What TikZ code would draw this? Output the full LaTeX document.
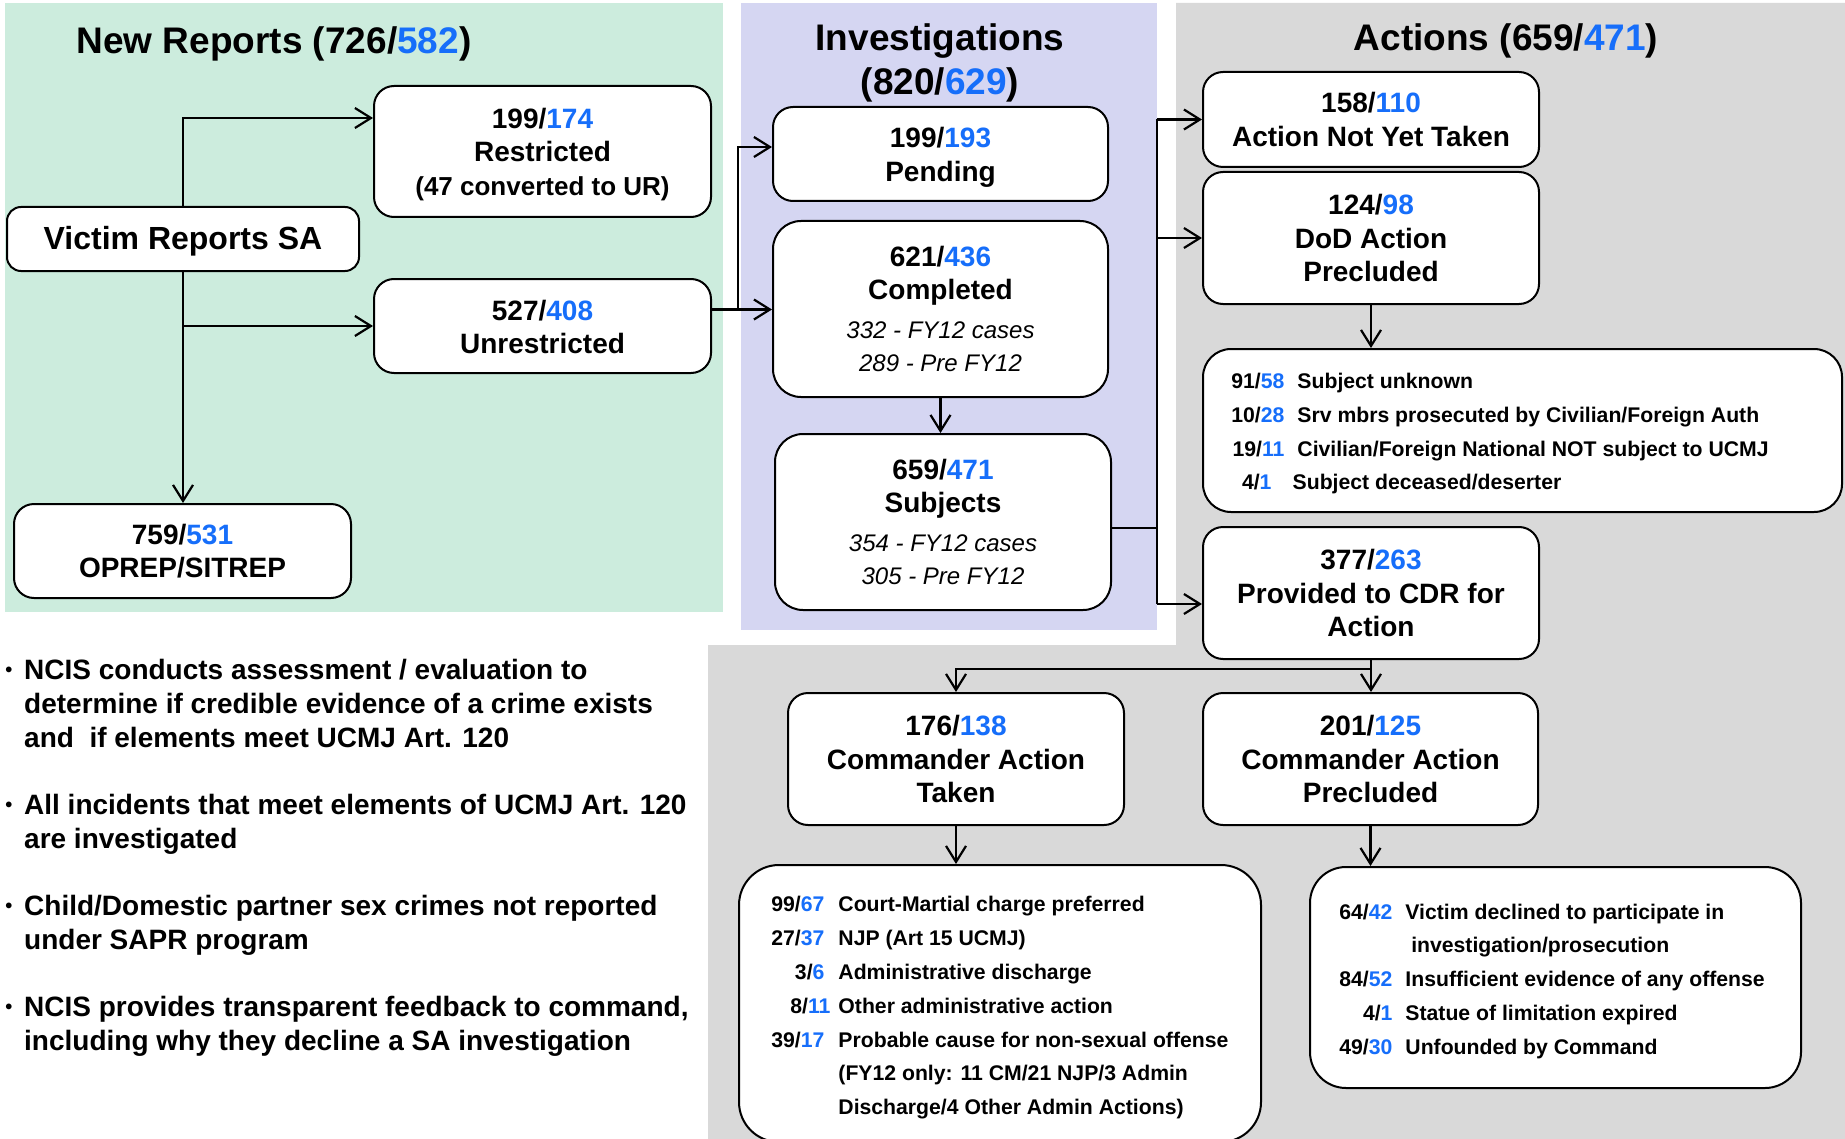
\documentclass[tikz,border=0pt]{standalone}
\usepackage{fontspec}
\setmainfont{Liberation Sans}
\usetikzlibrary{arrows.meta,calc}
\definecolor{nblue}{RGB}{22,110,250}
\definecolor{pgreen}{RGB}{204,236,221}
\definecolor{ppurple}{RGB}{213,214,242}
\definecolor{pgray}{RGB}{217,217,217}
\newcommand{\bl}[1]{\textcolor{nblue}{#1}}
\newcommand{\itl}[1]{{\fontsize{12}{17.6}\selectfont\mdseries\itshape #1}}
\newcommand{\bulmark}{\makebox[9.4pt][l]{\raisebox{1.5pt}{\fontsize{10}{10}\selectfont\textbullet}}}
\begin{document}
\begin{tikzpicture}[x=0.5pt,y=-0.5pt,
 box/.style={draw=black, line width=1pt, fill=white, rounded corners=10pt, align=center, inner sep=0pt, font=\fontsize{14}{16.8}\selectfont\bfseries},
 arr/.style={line width=1.1pt, -{Straight Barb[length=8pt,width=10pt]}},
 ln/.style={line width=1.1pt},
 ttl/.style={font=\fontsize{18.5}{21.75}\selectfont\bfseries, align=center, inner sep=0pt},
 lst/.style={font=\fontsize{10.6}{16.9}\selectfont\bfseries, inner sep=0pt, anchor=west},
 bul/.style={font=\fontsize{14}{17}\selectfont\bfseries, inner sep=0pt, anchor=west},
]
\useasboundingbox (0,0) rectangle (1845,1139);
\clip (0,0) rectangle (1845,1139);
\fill[white] (0,0) rectangle (1845,1139);
% panels
\fill[pgreen] (5,3) rectangle (723,612);
\fill[ppurple] (741,3) rectangle (1157,630);
\fill[pgray] (1176,3) -- (1845,3) -- (1845,1139) -- (708,1139) -- (708,645) -- (1176,645) -- cycle;

% titles
\node[ttl] (tnew) at (274,44) {New Reports (726/\bl{582})};
\node[ttl] (tinv) at (940,63) {Investigations\\(820/\bl{629})};
\node[ttl] (tact) at (1506,41) {Actions (659/\bl{471})};

% new reports
\node[box, minimum width=176pt, minimum height=32pt, rounded corners=7pt, font=\fontsize{16}{19}\selectfont\bfseries] (victim) at (183,239) {\rule{0pt}{14pt}Victim Reports SA};
\node[box, minimum width=168.5pt, minimum height=65.5pt] (restr) at (542.5,151.5) {\rule{0pt}{13pt}199/\bl{174}\\Restricted\\{\fontsize{13}{16.8}\selectfont(47 converted to UR)}};
\node[box, minimum width=168.5pt, minimum height=47pt] (unres) at (542.5,326) {\rule{0pt}{11pt}527/\bl{408}\\Unrestricted};
\node[box, minimum width=168.5pt, minimum height=47pt] (oprep) at (182.5,551) {759/\bl{531}\\OPREP/SITREP};

% investigations
\node[box, minimum width=167.5pt, minimum height=47pt] (pend) at (940.5,154) {\rule{0pt}{13.5pt}199/\bl{193}\\Pending};
\node[box, minimum width=167.5pt, minimum height=88pt, rounded corners=14pt] (comp) at (940.5,309) {621/\bl{436}\\Completed\\[2.5pt]\itl{332 - FY12 cases}\\\itl{289 - Pre FY12}};
\node[box, minimum width=168pt, minimum height=88pt, rounded corners=14pt] (subj) at (943,522) {659/\bl{471}\\Subjects\\[2.5pt]\itl{354 - FY12 cases}\\\itl{305 - Pre FY12}};

% actions
\node[box, minimum width=168pt, minimum height=47.5pt] (antt) at (1371,119.5) {158/\bl{110}\\Action Not Yet Taken};
\node[box, minimum width=168pt, minimum height=66pt] (dod) at (1371,238) {124/\bl{98}\\DoD Action\\Precluded};
\node[box, minimum width=319.5pt, minimum height=81.5pt, rounded corners=14pt] (list1) at (1522.5,430.5) {};
\node[lst] (list1t) at (1231,432.5) {\begin{tabular}{@{}r@{\hspace{6.5pt}}l@{}}
91/\bl{58} & Subject unknown\\
10/\bl{28} & Srv mbrs prosecuted by Civilian/Foreign Auth\\
19/\bl{11} & Civilian/Foreign National NOT subject to UCMJ\\
4/\bl{1}\hspace*{6.5pt} & \hspace*{-2.4pt}Subject deceased/deserter
\end{tabular}};
\node[box, minimum width=168pt, minimum height=66pt] (cdr) at (1371,593) {377/\bl{263}\\Provided to CDR for\\Action};
\node[box, minimum width=168pt, minimum height=66pt] (cat) at (956,759) {176/\bl{138}\\Commander Action\\Taken};
\node[box, minimum width=167.5pt, minimum height=66pt] (cap) at (1370.5,759) {201/\bl{125}\\Commander Action\\Precluded};

\node[box, minimum width=261pt, minimum height=138.5pt, rounded corners=20pt] (list2) at (1000,1003.5) {};
\node[lst] (list2t) at (771,1006.5) {\begin{tabular}{@{}r@{\hspace{7pt}}l@{}}
99/\bl{67} & Court-Martial charge preferred\\
27/\bl{37} & NJP (Art 15 UCMJ)\\
3/\bl{6} & Administrative discharge\\
8/\bl{11}\hspace*{-3pt} & Other administrative action\\
39/\bl{17} & Probable cause for non-sexual offense\\
 & (FY12 only: 11 CM/21 NJP/3 Admin\\
 & Discharge/4 Other Admin Actions)
\end{tabular}};

\node[box, minimum width=245.5pt, minimum height=110.5pt, rounded corners=18pt] (list3) at (1555.5,977.5) {};
\node[lst] (list3t) at (1339,980) {\begin{tabular}{@{}r@{\hspace{6.5pt}}l@{}}
64/\bl{42} & Victim declined to participate in\\
 & \hspace*{2.9pt}investigation/prosecution\\
84/\bl{52} & Insufficient evidence of any offense\\
4/\bl{1} & Statue of limitation expired\\
49/\bl{30} & Unfounded by Command
\end{tabular}};

% bullets
\node[bul] (b1) at (5,707) {\begin{tabular}{@{}l@{}l@{}}
\bulmark & NCIS conducts assessment / evaluation to\\
 & determine if credible evidence of a crime exists\\
 & and\ \ if elements meet UCMJ Art. 120
\end{tabular}};
\node[bul] (b2) at (5,825) {\begin{tabular}{@{}l@{}l@{}}
\bulmark & All incidents that meet elements of UCMJ Art. 120\\
 & are investigated
\end{tabular}};
\node[bul] (b3) at (5,926) {\begin{tabular}{@{}l@{}l@{}}
\bulmark & Child/Domestic partner sex crimes not reported\\
 & under SAPR program
\end{tabular}};
\node[bul] (b4) at (5,1027) {\begin{tabular}{@{}l@{}l@{}}
\bulmark & NCIS provides transparent feedback to command,\\
 & including why they decline a SA investigation
\end{tabular}};

% helper coordinates
\coordinate (ry) at (0,118);
\coordinate (uy) at (0,309.5);
\coordinate (jx) at (738,0);
\coordinate (py) at (0,147);
\coordinate (tx) at (1157,0);
\coordinate (sy) at (0,528);
\coordinate (cy) at (0,604);
\coordinate (by) at (0,669);

% connectors
\draw[arr] (victim.north) |- (restr.west |- ry);
\draw[arr] (victim.south) -- (victim.south |- oprep.north);
\draw[arr] (victim.south |- unres.west) -- (unres.west);

\draw[arr] (unres.east |- uy) -- (comp.west |- uy);
\draw[arr] (jx |- uy) |- (pend.west |- py);
\draw[arr] (comp.south) -- (comp.south |- subj.north);

\draw[ln] (subj.east |- sy) -- (tx |- sy);
\draw[ln] (tx |- antt.west) -- (tx |- cy);
\draw[arr] (tx |- antt.west) -- (antt.west);
\draw[arr] (tx |- dod.west) -- (dod.west);
\draw[arr] (tx |- cy) -- (cdr.west |- cy);
\draw[arr] (dod.south) -- (dod.south |- list1.north);

\draw[arr] (cdr.south) -- (cdr.south |- cap.north);
\draw[arr] (cdr.south |- by) -| (cat.north);
\draw[arr] (cat.south) -- (cat.south |- list2.north);
\draw[arr] (cap.south) -- (cap.south |- list3.north);
\end{tikzpicture}
\end{document}
